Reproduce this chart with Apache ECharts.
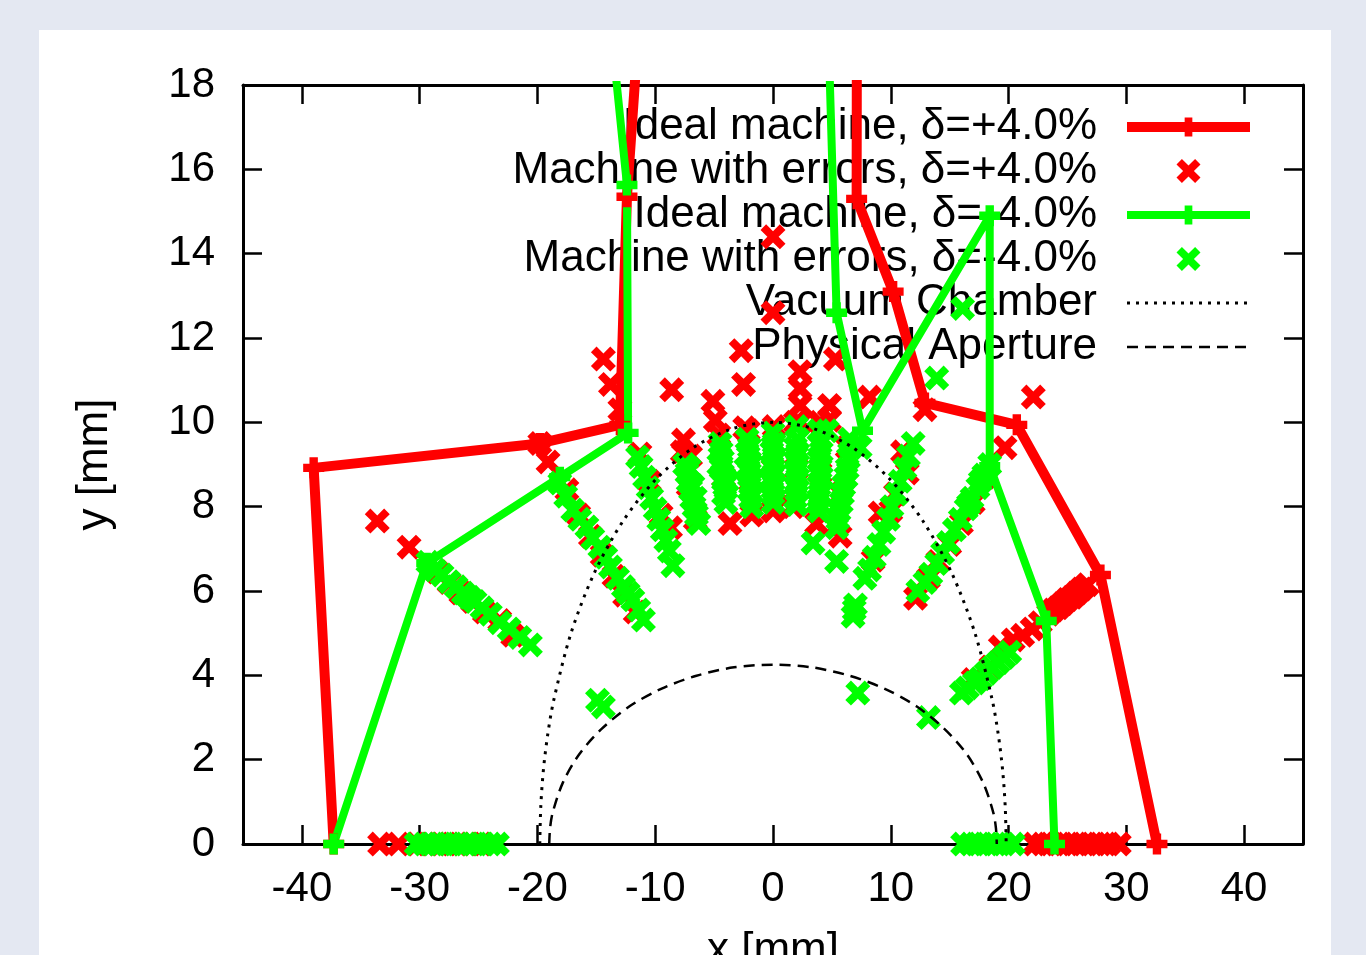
<!DOCTYPE html>
<html>
<head>
<meta charset="utf-8">
<title>Dynamic aperture</title>
<script src="https://cdn.jsdelivr.net/npm/echarts@6/dist/echarts.min.js"></script>
<style>
html, body { margin: 0; padding: 0; background: #e4e8f2; }
#panel { position: absolute; left: 39px; top: 30px; width: 1292px; height: 925px; background: #fff; }
#main { position: absolute; left: 0; top: 0; width: 1366px; height: 955px; }
</style>
</head>
<body>
<div id="panel"></div>
<div id="main"></div>
<script>
// series names (legend)
const names = [
  "Ideal machine, δ=+4.0%",
  "Machine with errors, δ=+4.0%",
  "Ideal machine, δ=-4.0%",
  "Machine with errors, δ=-4.0%",
  "Vacuum Chamber",
  "Physical Aperture"
];

const xTicks = [-40, -30, -20, -10, 0, 10, 20, 30, 40];

// ideal machine, dp = +4% (points at y=25 lie above the frame and get clipped)
const idealPlus = [
  [32.6, 0], [27.8, 6.38], [20.7, 9.94], [12.9, 10.46], [10.2, 13.1], [7.1, 15.3],
  [7.15, 25], [-10.0, 25], [-12.4, 15.35], [-13.0, 9.94], [-19.8, 9.5],
  [-39.0, 8.92], [-37.3, 0]
];

// machine with errors, dp = +4%
const errorsPlus = [
  [-33.4, 0], [-31.8, 0], [-30.2, 0], [-29.3, 0], [-28.4, 0], [-27.5, 0], [-26.6, 0], [-25.7, 0], [-24.8, 0],
  [22.2, 0], [22.9, 0], [23.6, 0], [24.3, 0], [25.0, 0], [25.7, 0], [26.4, 0], [27.1, 0], [27.8, 0], [28.5, 0], [29.4, 0],
  [-33.6, 7.66], [-30.9, 7.04],
  [-28.5, 6.45], [-27.5, 6.2], [-26.5, 5.95], [-25.5, 5.75], [-24.5, 5.5], [-23.2, 5.3], [-22.1, 4.95],
  [-19.8, 9.5], [-19.1, 9.06],
  [-17.5, 8.4], [-16.5, 7.8], [-15.5, 7.3], [-14.5, 6.85], [-13.5, 6.35], [-12.6, 5.9], [-11.7, 5.5],
  [-14.4, 11.5], [-13.8, 10.9], [-13.0, 10.3],
  [-11.3, 9.25], [-10.5, 8.6], [-9.5, 7.8], [-8.7, 7.5],
  [-8.6, 10.77], [-5.1, 10.5], [-2.5, 10.9], [-4.9, 10.05], [-2.4, 9.87], [-7.6, 9.58], [-7.0, 9.2],
  [-2.7, 11.7], [0, 14.4], [0, 12.6], [2.3, 11.2], [2.3, 10.8], [2.3, 10.4], [2.3, 10.0],
  [4.8, 10.4], [4.8, 10.05], [5.3, 11.5], [8.2, 10.6], [22.1, 10.6], [19.7, 9.4], [12.9, 10.3],
  [-7.7, 9.3], [-7.2, 8.5], [-6.6, 7.7], [-4.6, 9.7], [-4.2, 8.7], [-3.65, 7.6],
  [-2.1, 9.8], [-1.9, 8.6], [-1.8, 7.8], [0.1, 9.9], [0, 8.9], [0, 7.9],
  [1.9, 10.0], [2.0, 8.9], [1.7, 8.0], [4.0, 10.0], [4.0, 8.8], [3.7, 7.6],
  [6.3, 9.4], [5.8, 8.3], [5.7, 7.3],
  [11.4, 8.8], [10.4, 8.3], [10.0, 7.9], [9.1, 7.85], [8.5, 6.73], [11.0, 9.3],
  [18.0, 8.7], [17.0, 8.1], [16.0, 7.6], [15.0, 7.1], [14.0, 6.7], [13.2, 6.3], [12.1, 5.83],
  [17.0, 3.9], [18.5, 4.2], [19.3, 4.67], [20.4, 4.84], [21.2, 4.95], [22.0, 5.1], [22.7, 5.25],
  [23.4, 5.45], [23.8, 5.55], [24.2, 5.6], [24.6, 5.7], [25.0, 5.8], [25.4, 5.85], [25.8, 5.95],
  [26.2, 6.05], [26.7, 6.15]
];

// ideal machine, dp = -4%
const idealMinus = [
  [23.9, 0], [23.2, 5.29], [18.4, 8.96], [18.4, 14.9], [7.6, 9.8], [5.4, 12.6],
  [4.1, 25], [-15.8, 25], [-12.4, 15.63], [-12.3, 9.75], [-18.1, 8.7],
  [-29.4, 6.66], [-37.3, 0]
];

// machine with errors, dp = -4%
const errorsMinus = [
  [-30.3, 0], [-29.6, 0], [-28.9, 0], [-28.2, 0], [-27.5, 0], [-26.8, 0], [-26.1, 0], [-25.4, 0], [-24.7, 0], [-24.0, 0], [-23.4, 0],
  [16.1, 0], [16.8, 0], [17.5, 0], [18.2, 0], [18.9, 0], [19.6, 0], [20.4, 0],
  [-29.3, 6.68], [-28.7, 6.5], [-28.1, 6.38], [-27.5, 6.22], [-26.9, 6.1], [-26.3, 5.95], [-25.8, 5.85],
  [-25.3, 5.75], [-24.7, 5.6], [-24.0, 5.45], [-23.2, 5.25], [-22.4, 5.1], [-21.5, 4.9], [-20.6, 4.72],
  [-18.1, 8.56], [-17.6, 8.25], [-17.0, 7.92], [-16.4, 7.7], [-15.8, 7.52], [-15.3, 7.25], [-14.7, 7.04],
  [-14.2, 6.8], [-13.8, 6.57], [-13.2, 6.3], [-12.7, 6.1], [-12.3, 5.95], [-11.9, 5.79], [-11.4, 5.55], [-11.0, 5.31],
  [-11.5, 9.18], [-11.2, 8.95], [-10.9, 8.7], [-10.6, 8.45], [-10.3, 8.2], [-10.0, 7.95], [-9.7, 7.7],
  [-9.4, 7.45], [-9.1, 7.2], [-8.8, 6.95], [-8.5, 6.6],
  [-7.5, 9.0], [-7.3, 8.8], [-7.2, 8.6], [-7.0, 8.4], [-6.9, 8.2], [-6.7, 8.0], [-6.5, 7.8], [-6.3, 7.6],
  [-7.1, 8.9], [-6.8, 8.5], [-6.6, 8.2],
  [-4.5, 9.5], [-4.4, 9.3], [-4.3, 9.1], [-4.4, 8.9], [-4.2, 8.7], [-4.1, 8.5], [-4.2, 8.3], [-4.0, 8.1], [-4.6, 9.0], [-3.9, 8.6],
  [-2.2, 9.6], [-2.0, 9.4], [-2.1, 9.2], [-1.9, 9.0], [-2.0, 8.8], [-1.8, 8.6], [-2.0, 8.4], [-1.9, 8.2], [-1.8, 8.0], [-2.3, 8.9],
  [0, 9.75], [0.1, 9.5], [-0.1, 9.3], [0.1, 9.1], [0, 8.9], [-0.1, 8.7], [0.1, 8.5], [0, 8.3], [0, 8.1], [-0.2, 8.6],
  [2.0, 9.9], [2.1, 9.6], [1.9, 9.4], [2.0, 9.2], [2.1, 9.0], [1.9, 8.8], [2.0, 8.6], [2.1, 8.4], [1.9, 8.2], [2.0, 8.05],
  [3.9, 9.8], [4.0, 9.5], [4.1, 9.3], [3.9, 9.1], [4.0, 8.9], [4.1, 8.7], [3.9, 8.5], [4.0, 8.3], [3.8, 8.1], [3.9, 7.9],
  [6.6, 9.4], [6.4, 9.15], [6.3, 8.9], [6.2, 8.7], [6.0, 8.5], [5.9, 8.3], [5.8, 8.1], [5.6, 7.9], [5.5, 7.7], [5.4, 7.5],
  [6.5, 9.6], [7.4, 9.4], [4.6, 9.8], [3.4, 7.14], [5.4, 6.7],
  [11.9, 9.5], [11.5, 9.2], [11.2, 8.9], [10.8, 8.6], [10.5, 8.3], [10.1, 8.0], [9.8, 7.7], [9.4, 7.4],
  [9.0, 7.1], [8.6, 6.8], [8.2, 6.5], [7.8, 6.3], [7.0, 5.67], [6.8, 5.4], [6.9, 5.55],
  [18.4, 9.0], [17.9, 8.75], [17.6, 8.6], [17.4, 8.45], [16.9, 8.2], [16.6, 8.05], [16.4, 7.95], [15.9, 7.7],
  [15.4, 7.45], [14.9, 7.15], [14.4, 6.9], [13.9, 6.65], [13.4, 6.4], [12.9, 6.2], [12.3, 6.0],
  [20.1, 4.55], [19.6, 4.42], [19.1, 4.3], [18.6, 4.18], [18.1, 4.05], [17.6, 3.92], [17.1, 3.82], [16.5, 3.7], [16.0, 3.58],
  [-14.9, 3.41], [-14.4, 3.25], [7.2, 3.58], [13.2, 3.0], [13.9, 11.05], [16.1, 12.7]
];

// vacuum chamber outline
const vacuumChamber = [
  [-19.8, 0], [-19.72, 0.87], [-19.5, 1.74], [-19.13, 2.59], [-18.61, 3.42], [-17.15, 5.0], [-15.17, 6.43],
  [-12.73, 7.66], [-9.9, 8.66], [-6.77, 9.4], [-3.44, 9.85], [0, 10], [3.44, 9.85], [6.77, 9.4], [9.9, 8.66],
  [12.73, 7.66], [15.17, 6.43], [17.15, 5.0], [18.61, 3.42], [19.13, 2.59], [19.5, 1.74], [19.72, 0.87], [19.8, 0]
];

// physical aperture outline
const physicalAperture = [
  [-19.0, 0], [-18.93, 0.37], [-18.71, 0.74], [-17.85, 1.45], [-16.45, 2.13], [-14.55, 2.73], [-12.21, 3.26],
  [-9.5, 3.68], [-6.5, 3.99], [-3.3, 4.19], [0, 4.25], [3.3, 4.19], [6.5, 3.99], [9.5, 3.68], [12.21, 3.26],
  [14.55, 2.73], [16.45, 2.13], [17.85, 1.45], [18.71, 0.74], [18.93, 0.37], [19.0, 0]
];

const FONT = '"Liberation Sans", Arial, Helvetica, sans-serif';
const RED = "#ff0000";
const GREEN = "#00ff00";
const crossSymbol = "path://M4.5,0 L10,5.5 L15.5,0 L20,4.5 L14.5,10 L20,15.5 L15.5,20 L10,14.5 L4.5,20 L0,15.5 L5.5,10 L0,4.5 Z";
const plusSymbol = "path://M6,0 H14 V6 H20 V14 H14 V20 H6 V14 H0 V6 H6 Z";

const axisLine = { onZero: false, lineStyle: { color: "#000", width: 3 } };
const tickStyle = { color: "#000", width: 2.5 };
const labelStyle = { color: "#000", fontSize: 42, fontFamily: FONT };
const nameStyle = { color: "#000", fontSize: 44, fontFamily: FONT };

let chart = echarts.init(document.getElementById("main"));
chart.setOption({
  backgroundColor: "transparent",
  animation: false,
  grid: { left: 243, right: 63, top: 85, bottom: 111, containLabel: false, outerBoundsMode: "none" },
  legend: {
    orient: "vertical",
    right: 111,
    top: 102,
    padding: 0,
    itemGap: -6,
    align: "right",
    itemWidth: 123,
    itemHeight: 24,
    z: 1,
    selectedMode: false,
    data: [
      { name: names[0], lineStyle: { width: 10 } },
      { name: names[1] },
      { name: names[2], lineStyle: { width: 8 } },
      { name: names[3] },
      { name: names[4], lineStyle: { width: 3 }, itemStyle: { opacity: 0 } },
      { name: names[5], lineStyle: { width: 2.5 }, itemStyle: { opacity: 0 } }
    ],
    textStyle: { color: "#000", fontSize: 44, lineHeight: 44, fontFamily: FONT, padding: [6, 25, 0, 0] }
  },
  xAxis: [
    {
      type: "value", position: "bottom", min: -45, max: 45,
      axisLine: axisLine,
      axisTick: { inside: true, length: 19, customValues: xTicks, lineStyle: tickStyle },
      axisLabel: Object.assign({ customValues: xTicks, margin: 24 }, labelStyle),
      splitLine: { show: false },
      name: "x [mm]", nameLocation: "middle", nameGap: 85, nameTextStyle: nameStyle
    },
    {
      type: "value", position: "top", min: -45, max: 45,
      axisLine: axisLine,
      axisTick: { inside: true, length: 19, customValues: xTicks, lineStyle: tickStyle },
      axisLabel: { show: false },
      splitLine: { show: false }
    }
  ],
  yAxis: [
    {
      type: "value", position: "left", min: 0, max: 18, interval: 2,
      axisLine: axisLine,
      axisTick: { inside: true, length: 19, lineStyle: tickStyle },
      axisLabel: Object.assign({ margin: 28 }, labelStyle),
      splitLine: { show: false },
      name: "y [mm]", nameLocation: "middle", nameGap: 126, nameTextStyle: nameStyle
    },
    {
      type: "value", position: "right", min: 0, max: 18, interval: 2,
      axisLine: axisLine,
      axisTick: { inside: true, length: 19, lineStyle: tickStyle },
      axisLabel: { show: false },
      splitLine: { show: false }
    }
  ],
  series: [
    {
      name: names[0], type: "line", data: idealPlus, clip: true, silent: true,
      symbol: plusSymbol, symbolSize: 21, showAllSymbol: true,
      lineStyle: { color: RED, width: 10 }, itemStyle: { color: RED }
    },
    {
      name: names[1], type: "scatter", data: errorsPlus, silent: true,
      symbol: crossSymbol, symbolSize: 25, symbolKeepAspect: true,
      itemStyle: { color: RED, opacity: 1 }
    },
    {
      name: names[2], type: "line", data: idealMinus, clip: true, silent: true,
      symbol: plusSymbol, symbolSize: 21, showAllSymbol: true,
      lineStyle: { color: GREEN, width: 8 }, itemStyle: { color: GREEN }
    },
    {
      name: names[3], type: "scatter", data: errorsMinus, silent: true,
      symbol: crossSymbol, symbolSize: 25, symbolKeepAspect: true,
      itemStyle: { color: GREEN, opacity: 1 }
    },
    {
      name: names[4], type: "line", data: vacuumChamber, smooth: 0.3, symbol: "none", silent: true,
      itemStyle: { color: "#000" },
      lineStyle: { color: "#000", width: 3, type: [3, 6] }
    },
    {
      name: names[5], type: "line", data: physicalAperture, smooth: 0.3, symbol: "none", silent: true,
      itemStyle: { color: "#000" },
      lineStyle: { color: "#000", width: 2.5, type: [11, 7] }
    }
  ]
});
</script>
</body>
</html>
